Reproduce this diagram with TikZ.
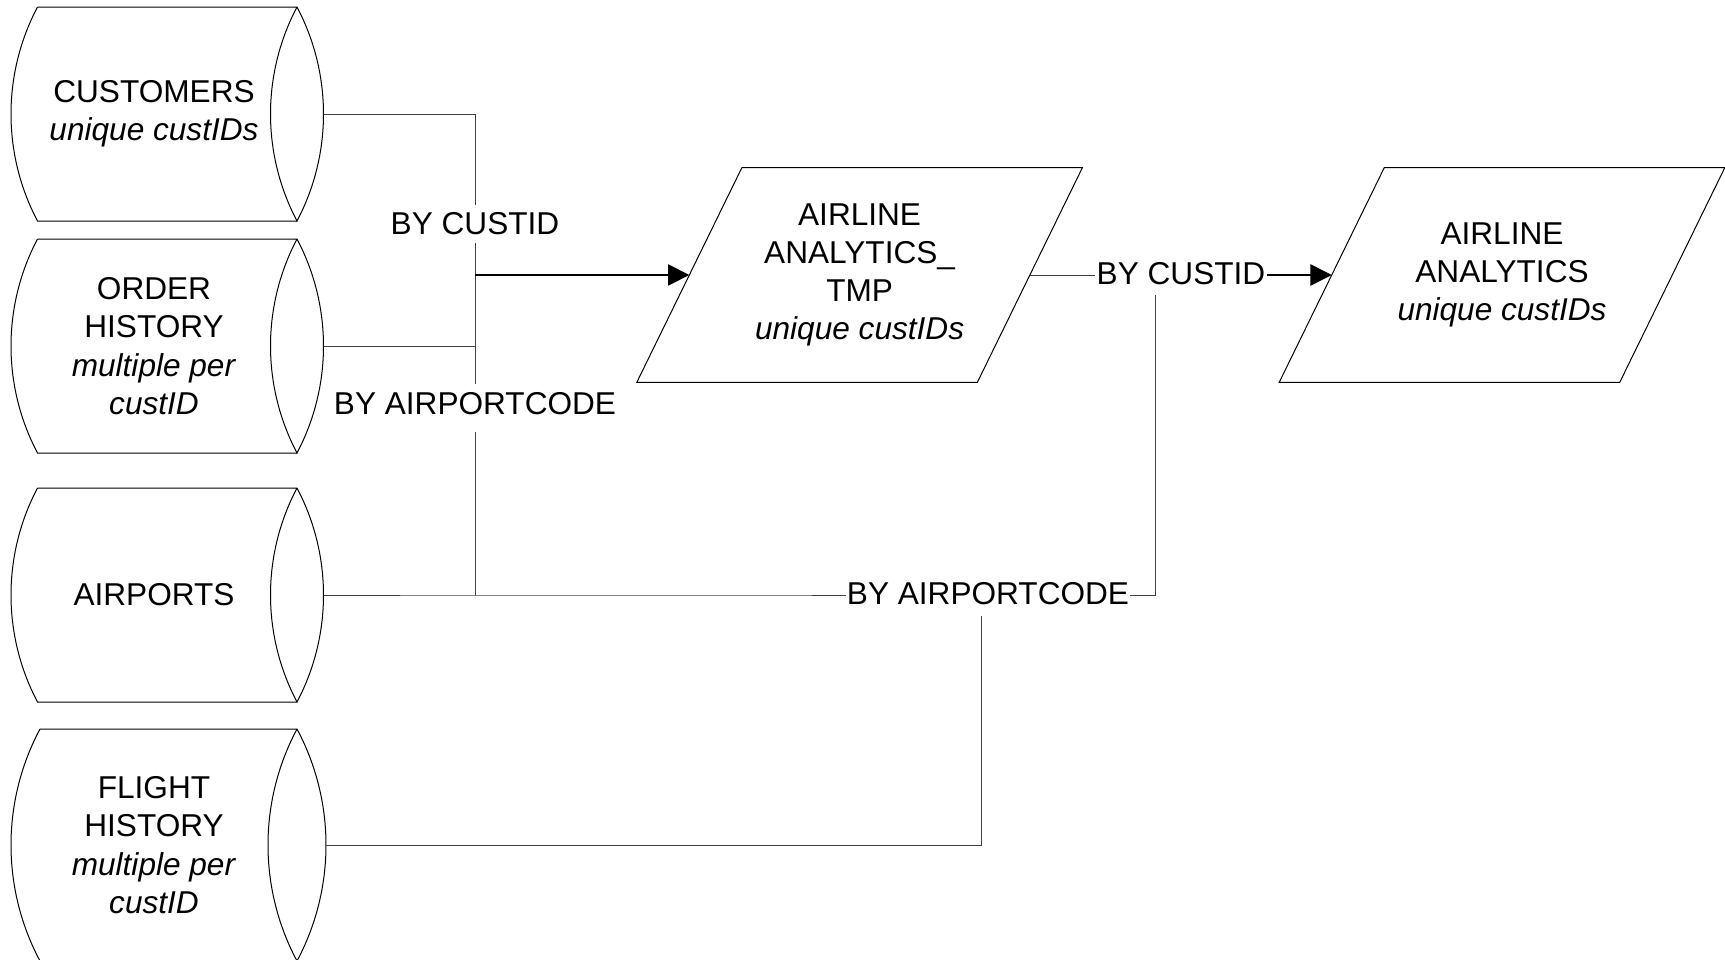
\documentclass[tikz,border=0pt]{standalone}
\usepackage{fontspec}
\setmainfont{Liberation Sans}
\usetikzlibrary{arrows.meta,calc}
\tikzset{
  shapeline/.style={draw=black, line width=0.75pt},
  conn/.style={draw=black!75, line width=0.75pt},
  arrconn/.style={draw=black, line width=1.1pt, -{Triangle[length=16pt,width=16pt]}},
  boxtext/.style={inner sep=0pt, align=center, font=\fontsize{23.7}{28.7}\selectfont},
  lbl/.style={fill=white, inner xsep=1pt, inner ysep=6pt, font=\fontsize{23.7}{28.7}\selectfont},
}
% #1 name, #2 xl (leftmost bulge), #3 xc (front lens corner x), #4 yt, #5 yb, #6 sagitta, #7 text
\newcommand\drum[7]{%
  \pgfmathsetmacro\dC{(#5-#4)/2}%
  \pgfmathsetmacro\dR{(\dC*\dC+#6*#6)/(2*#6)}%
  \pgfmathsetmacro\dT{asin(\dC/\dR)}%
  \node[boxtext, minimum width={(#3-#2)*0.75pt}, minimum height={(#5-#4)*0.75pt}] (#1) at ({(#2+#3)/2},{(#4+#5)/2}) {#7};
  \coordinate (#1-tip) at ({#3+#6},{(#4+#5)/2});
  \draw[shapeline] ({#2+#6},#4) -- (#3,#4)
     arc[start angle=\dT, end angle=-\dT, radius={\dR*0.75pt}]
     arc[start angle=180+\dT, end angle=180-\dT, radius={\dR*0.75pt}];
  \draw[shapeline] (#3,#5) -- ({#2+#6},#5)
     arc[start angle=180+\dT, end angle=180-\dT, radius={\dR*0.75pt}];
}
% #1 name, #2 cx, #3 cy, #4 text
\newcommand\pgram[4]{%
  \node[boxtext, minimum width=255pt, minimum height=160.5pt] (#1) at (#2,#3) {#4};
  \draw[shapeline] ($(#1.north west)+(52.5,0)$) -- ($(#1.north east)+(52.5,0)$)
     -- ($(#1.south east)+(-52.5,0)$) -- ($(#1.south west)+(-52.5,0)$) -- cycle;
}
\begin{document}
\begin{tikzpicture}[x=0.75pt,y=-0.75pt]
\useasboundingbox (0,0) rectangle (1725,960);
\drum{cust}{11}{297}{7}{221}{26.5}{CUSTOMERS\\\textit{unique custIDs}}
\drum{ord}{11}{297}{239}{453}{26.5}{ORDER\\HISTORY\\\textit{multiple per}\\\textit{custID}}
\drum{air}{11}{297}{488}{702}{26.5}{AIRPORTS}
\drum{fh}{11}{297}{729}{961}{29}{FLIGHT\\HISTORY\\\textit{multiple per}\\\textit{custID}}
\pgram{tmp}{859.6}{275}{AIRLINE\\ANALYTICS\_\\TMP\\\textit{unique custIDs}}
\pgram{aa}{1502}{275}{AIRLINE\\ANALYTICS\\\textit{unique custIDs}}

\coordinate (j1) at (475,114);
\coordinate (j2) at (475,275);
\coordinate (j3) at (475,346);
\coordinate (j4) at (475,595);
\coordinate (j5) at (1155,595);
\coordinate (j6) at (1155,295);
\coordinate (j7) at (981,845);
\coordinate (j8) at (981,616);

\draw[conn] (cust-tip) -- (j1) -- (j4);
\draw[conn] (ord-tip) -- (j3);
\draw[conn] (air-tip) -- (j4) -- (j5) -- (j6);
\draw[conn] (fh-tip) -- (j7) -- (j8);
\draw[arrconn] (j2) -- (tmp.west);
\draw[conn] (tmp.east) -- (1265,275);
\draw[arrconn] (1265,275) -- (aa.west);

\node[lbl] (l1) at (475,224) {BY CUSTID};
\node[lbl, anchor=base, text depth=7.5pt] (l2) at (475,414) {BY AIRPORTCODE};
\node[lbl] (l3) at (988,594) {BY AIRPORTCODE};
\node[lbl] (l4) at (1181,274) {BY CUSTID};
\end{tikzpicture}
\end{document}
